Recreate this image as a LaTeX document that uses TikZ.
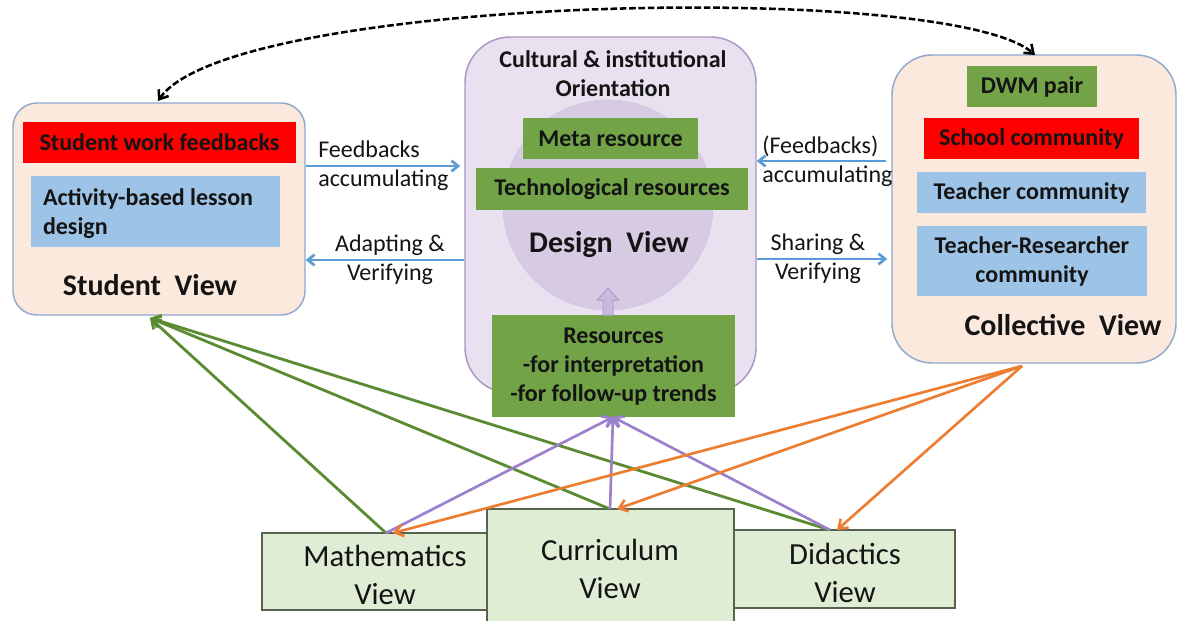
\documentclass[tikz,border=0pt]{standalone}
\usepackage{fontspec}
\setmainfont{Carlito}
\usetikzlibrary{arrows.meta,fit,calc}
\definecolor{peach}{HTML}{FCE9DD}
\definecolor{viewedge}{HTML}{8FAACC}
\definecolor{desfill}{HTML}{E9E1EF}
\definecolor{desedge}{HTML}{A898C2}
\definecolor{circfill}{HTML}{D7CAE3}
\definecolor{resgreen}{HTML}{72A347}
\definecolor{lblue}{HTML}{9DC3E6}
\definecolor{ink}{HTML}{141414}
\definecolor{arrblue}{HTML}{5B9BD5}
\definecolor{bfill}{HTML}{E0EDD5}
\definecolor{bedge}{HTML}{58634F}
\definecolor{lgreen}{HTML}{5A8A32}
\definecolor{lpurple}{HTML}{9C80CC}
\definecolor{lorange}{HTML}{ED7D31}
\definecolor{arrlav}{HTML}{C9B8DF}
\newcommand\fsA{\fontsize{18}{21.75}\selectfont}
\newcommand\fsT{\fontsize{22.5}{27}\selectfont}
\newcommand\fsB{\fontsize{23}{28}\selectfont}
\begin{document}
\begin{tikzpicture}[x=0.75pt,y=-0.75pt,
  view/.style={draw=viewedge, line width=1.1pt, fill=peach, inner sep=0pt},
  gbox/.style={fill=resgreen, inner sep=0pt},
  rbox/.style={fill=red, inner sep=0pt},
  lbbox/.style={fill=lblue, inner sep=0pt},
  btxt/.style={font=\bfseries\fsA, text=ink, align=center, inner sep=0pt},
  ttl/.style={font=\bfseries\fsT, text=ink, inner sep=0pt},
  lab/.style={font=\fsA, text=ink, inner sep=0pt},
  vbox/.style={draw=bedge, fill=bfill, line width=1pt, inner sep=0pt},
  vtxt/.style={font=\fsB, text=ink, align=center, inner sep=0pt},
  barrow/.style={draw=arrblue, line width=2pt, -{Straight Barb[length=5pt,width=8pt]}},
  garrow/.style={draw=lgreen, line width=2.1pt, -{Straight Barb[length=6pt,width=9pt]}},
  parrow/.style={draw=lpurple, line width=2pt, -{Straight Barb[length=6pt,width=9pt]}},
  oarrow/.style={draw=lorange, line width=2pt, -{Straight Barb[length=6pt,width=9pt]}},
  dasharrow/.style={draw=black, line width=1.9pt, dash pattern=on 5pt off 2pt,
     {Straight Barb[length=6pt,width=9pt]}-{Straight Barb[length=6pt,width=9pt]}}
]
\useasboundingbox[fill=white] (0,0) rectangle (1178,621);

% Student view
\node[view, fit={(13,103)(305,315)}, rounded corners=18pt] (stud) {};
\node[rbox, fit={(23,122)(296,163)}] (swf) {};
\node[btxt] (swft) at (swf.center) {Student work feedbacks};
\node[lbbox, fit={(31,176)(280,247)}] (abl) {};
\node[btxt, align=left, anchor=west] (ablt) at ($(abl.west)+(12,2)$) {Activity-based lesson\\design};
\node[ttl] (svt) at (150,285) {Student~~View};

% Design view
\node[draw=desedge, line width=1.1pt, fill=desfill, inner sep=0pt, fit={(465,37)(756,393)}, rounded corners=34pt] (des) {};
\node[circle, fill=circfill, draw=circfill!90!desedge, line width=0.5pt, minimum size=157.5pt, inner sep=0pt] (circ) at (608,205) {};
\node[btxt] (cult) at (613,74) {Cultural \& institutional\\Orientation};
\node[gbox, fit={(523,118)(698,159)}] (meta) {};
\node[btxt] (metat) at (meta.center) {Meta resource};
\node[gbox, fit={(476,168)(748,210)}] (tech) {};
\node[btxt] (techt) at (tech.center) {Technological resources};
\node[ttl] (dvt) at (609,245) {Design~~View};
\node[gbox, fit={(492,315)(735,417)}] (res) {};
\node[btxt] (rest) at ($(res.center)+(0,1)$) {Resources\\-for interpretation\\-for follow-up trends};
\draw[fill=arrlav, draw=desedge, line width=0.6pt]
  ($(circ.south)+(-5,5)$) -- ($(circ.south)+(-5,-10)$) -- ($(circ.south)+(-11,-10)$)
  -- ($(circ.south)+(0,-22)$) -- ($(circ.south)+(11,-10)$) -- ($(circ.south)+(5,-10)$)
  -- ($(circ.south)+(5,5)$) -- cycle;

% Collective view
\node[view, fit={(892,55)(1176,363)}, rounded corners=30pt] (coll) {};
\node[gbox, fit={(967,66)(1097,107)}] (dwm) {};
\node[btxt] (dwmt) at (dwm.center) {DWM pair};
\node[rbox, fit={(924,118)(1139,159)}] (sc) {};
\node[btxt] (sct) at (sc.center) {School community};
\node[lbbox, fit={(917,172)(1146,213)}] (tc) {};
\node[btxt] (tct) at (tc.center) {Teacher community};
\node[lbbox, fit={(917,226)(1147,296)}] (trc) {};
\node[btxt] (trct) at (trc.center) {Teacher-Researcher\\community};
\node[ttl] (cvt) at (1063,325) {Collective~~View};

% Horizontal arrows and labels
\node[lab, anchor=west, align=left] (l1) at (318,166) {Feedbacks\\accumulating};
\node[lab, align=center] (l2) at (390,260) {Adapting \&\\Verifying};
\node[lab, anchor=west, align=left] (l3) at (762,161) {(Feedbacks)\\accumulating};
\node[lab, align=center] (l4) at (818,259) {Sharing \&\\Verifying};
\draw[barrow] (stud.east |- l1) -- ($(des.west |- l1)+(-4,0)$);
\draw[barrow] (des.west |- l2) -- (stud.east |- l2);
\draw[barrow] ($(coll.west |- l3)+(-5,0)$) -- (des.east |- l3);
\draw[barrow] (des.east |- l4) -- ($(coll.west |- l4)+(-4,0)$);

% Dashed arc
\coordinate (dl) at (158,101);
\coordinate (dr) at (1035,55);
\draw[dasharrow] (dl) .. controls (230,-5) and (950,-20) .. (dr);

% Bottom views
\node[vbox, fit={(262,533)(497,610)}] (math) {};
\node[vtxt] (matht) at (385,575) {Mathematics\\View};
\node[vbox, fit={(734,530)(955,608)}] (did) {};
\node[vtxt] (didt) at (845,573) {Didactics\\View};
\node[vbox, fit={(487,509)(734,630)}] (cur) {};
\node[vtxt] (curt) at (610,569) {Curriculum\\View};

% connector end points
\coordinate (sv) at (150,318);
\coordinate (rb) at (613,417);
\coordinate (cb) at (1022,366);
\coordinate (mt) at (386,533);
\coordinate (ct) at (610,509);
\coordinate (dt) at (830,530);
\coordinate (mo) at (393,533);
\coordinate (co) at (617,509);
\coordinate (do) at (837,530);

\draw[garrow] (mt) -- (sv);
\draw[garrow] (ct) -- (sv);
\draw[garrow] (dt) -- (sv);
\draw[parrow] (mt) -- (rb);
\draw[parrow] (ct) -- (rb);
\draw[parrow] (dt) -- (rb);
\draw[oarrow] (cb) -- (mo);
\draw[oarrow] (cb) -- (co);
\draw[oarrow] (cb) -- (do);
\end{tikzpicture}
\end{document}
